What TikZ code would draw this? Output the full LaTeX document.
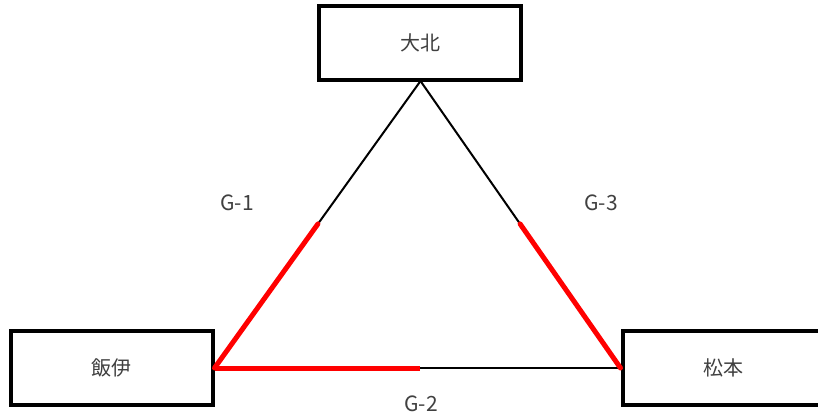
\documentclass[tikz,border=0pt]{standalone}
\usepackage{fontspec}
\usetikzlibrary{calc}
\setmainfont{Noto Sans CJK JP}
\definecolor{txt}{HTML}{404040}
\begin{document}
\begin{tikzpicture}[x=1pt,y=-1pt,
  box/.style={draw=black,line width=4pt,fill=white,minimum width=202pt,minimum height=74pt,inner sep=0pt,font=\fontsize{20}{24}\selectfont,text=txt},
  lbl/.style={font=\fontsize{21}{24}\selectfont,text=txt,inner sep=0pt},
  thin/.style={draw=black,line width=2pt},
  hot/.style={draw=red,line width=5pt}]
\useasboundingbox (0,0) rectangle (818,416);
\node[box] (top) at (420,42.5) {大北};
\node[box] (left) at (111.5,368) {飯伊};
\node[box] (right) at (723.5,368) {松本};
\coordinate (apex) at (420.5,81);
\coordinate (lm) at ($(apex)!0.498!(left.east)$);
\coordinate (rm) at ($(apex)!0.498!(right.west)$);
\coordinate (bm) at (420,368);
\draw[thin] (apex) -- (left.east);
\draw[thin] (apex) -- (right.west);
\draw[thin] (left.east) -- (right.west);
\draw[hot,line cap=round] (lm) -- (left.east);
\draw[hot,line cap=round] (rm) -- (right.west);
\draw[hot] (left.east) -- (bm);
\node[lbl] (g1) at (237,203) {G-1};
\node[lbl] (g3) at (601,203) {G-3};
\node[lbl] (g2) at (421,404) {G-2};
\end{tikzpicture}
\end{document}
